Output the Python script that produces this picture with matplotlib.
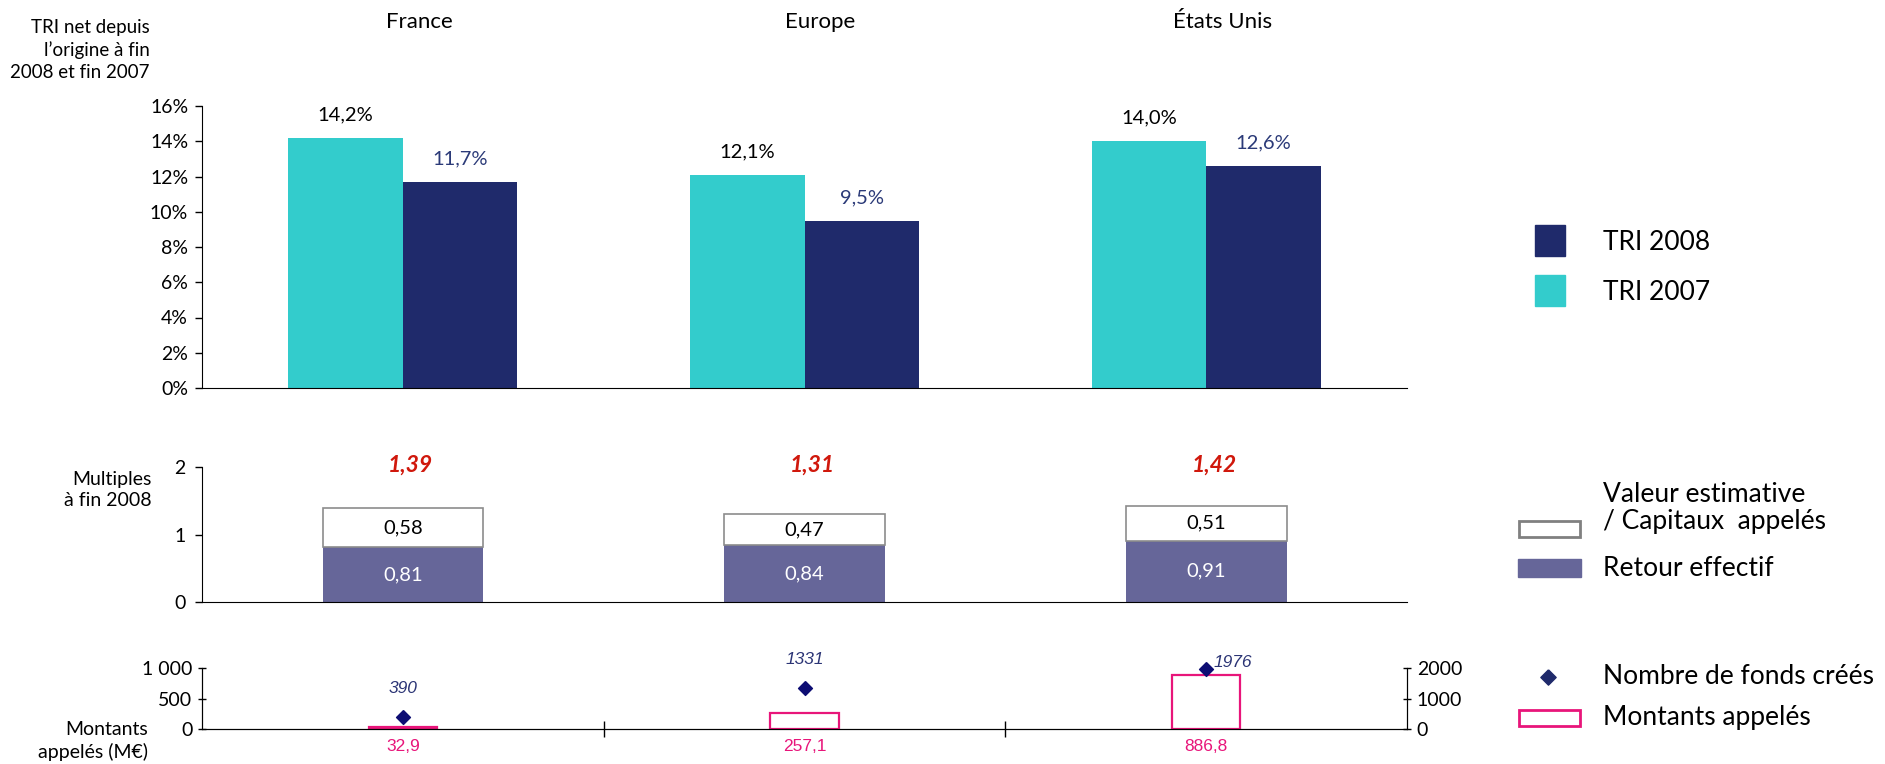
import numpy as np
import matplotlib.pyplot as plt
import matplotlib.transforms as mtransforms
from matplotlib.patches import Rectangle
from matplotlib.lines import Line2D

plt.rcParams['font.family'] = ['Lato', 'DejaVu Sans']
ARIAL = ['Liberation Sans', 'DejaVu Sans']

regions = ['France', 'Europe', 'États Unis']
tri_2007 = [14.2, 12.1, 14.0]
tri_2008 = [11.7, 9.5, 12.6]
retour_effectif = [0.81, 0.84, 0.91]
valeur_estimative = [0.58, 0.47, 0.51]
multiples_total = [1.39, 1.31, 1.42]
montants_appeles = [32.9, 257.1, 886.8]
nombre_fonds = [390, 1331, 1976]

C_2007 = '#33CCCC'
C_2008 = '#1F2A6B'
C_RETOUR = '#666699'
C_RED = '#D0180C'
C_PINK = '#E8157A'
C_DIAM = '#0D0D73'

W, H = 1885, 764
fig = plt.figure(figsize=(W / 100, H / 100), dpi=100)


def box(left, top, right, bottom):
    return [left / W, 1 - bottom / H, (right - left) / W, (bottom - top) / H]


def fr(v, d):
    return f'{v:.{d}f}'.replace('.', ',')


x = np.arange(len(regions))

# --- TRI ---
ax1 = fig.add_axes(box(202, 106, 1407, 388))
w = 0.285
ax1.bar(x - w / 2, tri_2007, w, color=C_2007)
ax1.bar(x + w / 2, tri_2008, w, color=C_2008)
ax1.set_xlim(-0.5, 2.5)
ax1.set_ylim(0, 16)
ax1.set_yticks(range(0, 17, 2))
ax1.set_yticklabels([f'{t}%' for t in range(0, 17, 2)], fontsize=14)
ax1.set_xticks([])
for s in ['top', 'right']:
    ax1.spines[s].set_visible(False)
ax1.tick_params(axis='y', length=5, width=1, pad=5)
for i in x:
    ax1.annotate(fr(tri_2007[i], 1) + '%', (i - w / 2, tri_2007[i]), xytext=(0, 16.5),
                 textcoords='offset points', ha='center', va='center', fontsize=14.5)
    ax1.annotate(fr(tri_2008[i], 1) + '%', (i + w / 2, tri_2008[i]), xytext=(0, 16.5),
                 textcoords='offset points', ha='center', va='center', fontsize=14.5,
                 color='#2B3A78')
trans = mtransforms.blended_transform_factory(ax1.transData, fig.transFigure)
for i, r in enumerate(regions):
    ax1.text(i + 0.04, 1 - 22 / H, r, transform=trans, ha='center', va='center', fontsize=16)

fig.text(150 / W, 1 - 50 / H, 'TRI net depuis\nl’origine à fin\n2008 et fin 2007',
         ha='right', va='center', ma='right', fontsize=13.5, linespacing=1.35)

# --- Multiples ---
ax2 = fig.add_axes(box(202, 467, 1407, 602))
wb = 0.4
ax2.bar(x, retour_effectif, wb, color=C_RETOUR)
ax2.bar(x, valeur_estimative, wb, bottom=retour_effectif, facecolor='white',
        edgecolor='#8C8C8C', linewidth=1.2)
ax2.set_xlim(-0.5, 2.5)
ax2.set_ylim(0, 2)
ax2.set_yticks([0, 1, 2])
ax2.set_yticklabels(['0', '1', '2'], fontsize=14)
ax2.set_xticks([])
for s in ['top', 'right']:
    ax2.spines[s].set_visible(False)
ax2.tick_params(axis='y', length=5, width=1, pad=7)
for i in x:
    ax2.text(i, retour_effectif[i] / 2, fr(retour_effectif[i], 2), ha='center', va='center',
             color='white', fontsize=14.5)
    ax2.text(i, retour_effectif[i] + valeur_estimative[i] / 2, fr(valeur_estimative[i], 2),
             ha='center', va='center', fontsize=14.5)
    ax2.text(i + 0.02, 2.03, fr(multiples_total[i], 2), ha='center', va='center',
             color=C_RED, fontsize=16.5, fontweight='bold', fontstyle='italic', clip_on=False)

fig.text(152 / W, 1 - 490 / H, 'Multiples\nà fin 2008', ha='right', va='center', ma='right',
         fontsize=14, linespacing=1.3)

# --- Montants / fonds ---
ax3 = fig.add_axes(box(202, 668, 1407, 729))
ax3.bar(x, montants_appeles, 0.17, facecolor='white', edgecolor=C_PINK, linewidth=1.6)
ax3.set_xlim(-0.5, 2.5)
ax3.set_ylim(0, 1000)
ax3.set_yticks([0, 500, 1000])
ax3.set_yticklabels(['0', '500', '1 000'], fontsize=14)
ax3.set_xticks([0.5, 1.5])
ax3.set_xticklabels([])
ax3.tick_params(axis='x', direction='inout', length=12, width=1)
ax3.tick_params(axis='y', direction='inout', length=6, width=1, pad=4)
ax3.spines['top'].set_visible(False)
for i in x:
    ax3.annotate(fr(montants_appeles[i], 1), (i, 0), xytext=(0, -12.5), textcoords='offset points',
                 ha='center', va='center', color=C_PINK, fontsize=12.5, family=ARIAL)

ax4 = ax3.twinx()
ax4.set_ylim(0, 2000)
diamond = [(0, 1), (1, 0), (0, -1), (-1, 0), (0, 1)]
ax4.plot(x, nombre_fonds, linestyle='none', marker=diamond, markersize=10, color=C_DIAM,
         clip_on=False)
ax4.set_yticks([0, 1000, 2000])
ax4.set_yticklabels(['0', '1000', '2000'], fontsize=14)
ax4.tick_params(axis='y', direction='inout', length=6, width=1, pad=4)
ax4.spines['top'].set_visible(False)
for i in x:
    if i < 2:
        ax4.annotate(str(nombre_fonds[i]), (i, nombre_fonds[i]), xytext=(0, 20.5),
                     textcoords='offset points', ha='center', va='center', color='#2B3475',
                     fontsize=12.5, fontstyle='italic', family=ARIAL)
    else:
        ax4.annotate(str(nombre_fonds[i]), (i, nombre_fonds[i]), xytext=(5, 4.5),
                     textcoords='offset points', ha='left', va='center', color='#2B3475',
                     fontsize=12.5, fontstyle='italic', family=ARIAL)

fig.text(148 / W, 1 - 741 / H, 'Montants\nappelés (M€)', ha='right', va='center', ma='right',
         fontsize=14, linespacing=1.35)


# --- legends ---
def leg_rect(l, t, r, b, **kw):
    fig.add_artist(Rectangle((l / W, 1 - b / H), (r - l) / W, (b - t) / H,
                             transform=fig.transFigure, **kw))


def leg_text(y, s, **kw):
    fig.text(1603 / W, 1 - y / H, s, ha='left', va='center', fontsize=19, **kw)


leg_rect(1535, 225, 1565, 256, color=C_2008)
leg_text(242, 'TRI 2008')
leg_rect(1535, 275, 1565, 306, color=C_2007)
leg_text(292, 'TRI 2007')

leg_rect(1519, 521, 1580, 537, facecolor='white', edgecolor='#808080', linewidth=2)
leg_text(508, 'Valeur estimative\n/ Capitaux  appelés', linespacing=1.1)
leg_rect(1518, 559, 1581, 577, color=C_RETOUR)
leg_text(569, 'Retour effectif')

fig.add_artist(Line2D([1548 / W], [1 - 677 / H], transform=fig.transFigure, linestyle='none',
                      marker=diamond, markersize=11, color='#1F2A6B'))
leg_text(677, 'Nombre de fonds créés')
leg_rect(1519, 710, 1580, 726, facecolor='white', edgecolor=C_PINK, linewidth=2)
leg_text(717, 'Montants appelés')

fig.savefig('out.png', dpi=100)
